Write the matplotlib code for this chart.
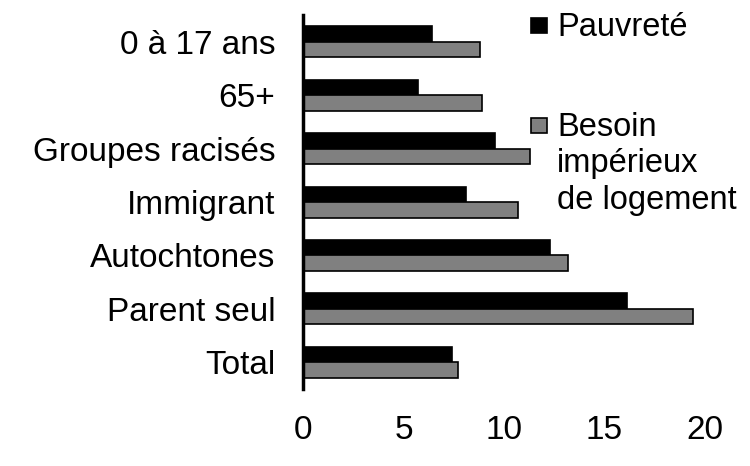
import numpy as np
import matplotlib
matplotlib.use('Agg')
from matplotlib import pyplot as plt
from matplotlib.patches import Rectangle

# data (percent)
categories = ['0 à 17 ans', '65+', 'Groupes racisés', 'Immigrant',
              'Autochtones', 'Parent seul', 'Total']
pauvrete = [6.4, 5.7, 9.55, 8.1, 12.3, 16.1, 7.4]
besoin_logement = [8.8, 8.9, 11.3, 10.7, 13.2, 19.4, 7.7]
series_labels = ['Pauvreté', 'Besoin\nimpérieux\nde logement']
xticks = [0, 5, 10, 15, 20]

plt.rcParams['font.family'] = ['Liberation Sans', 'DejaVu Sans']

fig = plt.figure(figsize=(7.5, 4.66), dpi=100)
ax = fig.add_axes([0.404, 0.165, 0.536, 0.803])

y = np.arange(len(categories))
h = 0.29
ax.barh(y - h / 2, pauvrete, height=h, color='black', edgecolor='black',
        linewidth=1.2)
ax.barh(y + h / 2, besoin_logement, height=h, color='#808080',
        edgecolor='black', linewidth=1.2)

ax.set_ylim(len(categories) - 0.5, -0.5)
ax.set_xlim(0, 20)
ax.set_yticks(y)
ax.set_yticklabels(categories)
ax.set_xticks(xticks)
ax.tick_params(axis='both', length=0, labelsize=24, colors='black')
ax.tick_params(axis='y', pad=20)
ax.tick_params(axis='x', pad=19)
for s in ['top', 'right', 'bottom']:
    ax.spines[s].set_visible(False)
ax.spines['left'].set_linewidth(2.5)

# legend drawn by hand to match the layout of the original
colors = ['black', '#808080']
sq_y = [1 - 33 / 466, 1 - 133 / 466]
for c, yy, lab in zip(colors, sq_y, series_labels):
    fig.patches.append(Rectangle((531 / 750, yy), 16 / 750, 15 / 466,
                                 transform=fig.transFigure, facecolor=c,
                                 edgecolor='black', linewidth=1.2))
    fig.text(557 / 750, yy + 21 / 466, lab, fontsize=23.5, va='top',
             ha='left', linespacing=1.22)

fig.savefig('out.png', dpi=100)
